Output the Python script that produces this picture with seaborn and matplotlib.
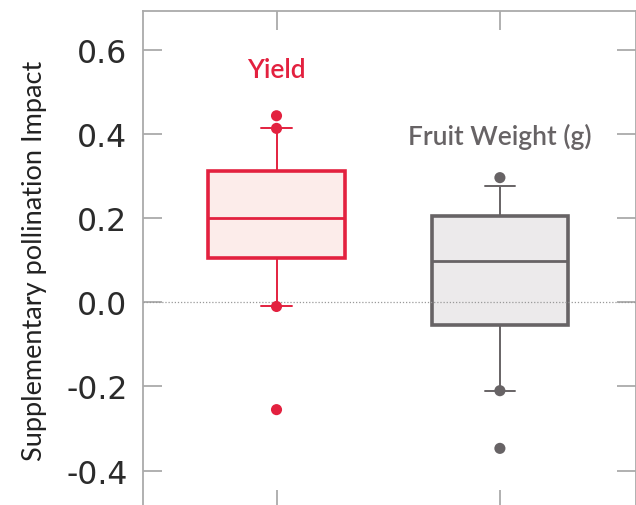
import numpy as np
import pandas as pd
import seaborn as sns
import matplotlib.pyplot as plt
from matplotlib.ticker import FormatStrFormatter

# five-number summaries (whisker low, Q1, median, Q3, whisker high)
categories = ['Yield', 'Fruit Weight (g)']
yield_summary = [-0.010, 0.105, 0.199, 0.312, 0.413]
weight_summary = [-0.210, -0.055, 0.098, 0.206, 0.275]

# individual points drawn as dots
yield_points = [0.443, 0.413, -0.010, -0.255]
weight_points = [0.296, -0.210, -0.347]

edge_colors = ['#E3213F', '#676365']
fill_colors = ['#FCECEA', '#ECEAEB']

y_ticks = [-0.4, -0.2, 0.0, 0.2, 0.4, 0.6]

sns.set_style('white')
plt.rcParams['font.family'] = ['Lato', 'DejaVu Sans']
plt.rcParams['axes.unicode_minus'] = False

box_df = pd.DataFrame({
    'cat': [categories[0]] * len(yield_summary) + [categories[1]] * len(weight_summary),
    'val': yield_summary + weight_summary,
})
pts_df = pd.DataFrame({
    'cat': [categories[0]] * len(yield_points) + [categories[1]] * len(weight_points),
    'val': yield_points + weight_points,
})

fig = plt.figure(figsize=(6.36, 5.06), dpi=100)
ax = fig.add_axes([142.7 / 636, -4 / 506, (635.5 - 142.7) / 636, (510 - 11.7) / 506])

for cat, edge, fill in zip(categories, edge_colors, fill_colors):
    sns.boxplot(data=box_df[box_df['cat'] == cat], x='cat', y='val', order=categories,
                color=fill, linecolor=edge, saturation=1, width=0.61,
                whis=np.inf, showfliers=False, linewidth=2.6,
                whiskerprops=dict(linewidth=1.4), capprops=dict(linewidth=1.4),
                medianprops=dict(linewidth=2.0), capwidths=0.135, ax=ax)

sns.stripplot(data=pts_df, x='cat', y='val', order=categories, hue='cat',
              palette=dict(zip(categories, edge_colors)), jitter=False, size=8,
              linewidth=0, legend=False, zorder=5, ax=ax)

ax.axhline(0, color='#999999', lw=0.9, ls=(0, (1, 1.5)), zorder=4)

ax.set_xlim(-0.599, 1.607)
ax.set_ylim(-0.491, 0.6925)
ax.set_yticks(y_ticks)
ax.yaxis.set_major_formatter(FormatStrFormatter('%.1f'))
ax.set_xticks([0, 1])
ax.set_xticklabels([])
ax.set_xlabel('')
ax.set_ylabel('Supplementary pollination Impact', fontsize=19.5, color='#222222')
ax.yaxis.set_label_coords(-0.194, 0.5)

for lbl in ax.get_yticklabels():
    lbl.set_fontfamily(['DejaVu Sans'])
    lbl.set_fontsize(22.7)
    lbl.set_color('#2b2b2b')

ax.tick_params(axis='both', direction='in', length=14, width=1.3, color='#aaaaaa',
               left=True, right=True, top=True, bottom=True, pad=11)
for side in ['left', 'right', 'top']:
    ax.spines[side].set_color('#aaaaaa')
    ax.spines[side].set_linewidth(1.3)
ax.spines['bottom'].set_visible(False)

ax.text(0, 0.554, categories[0], color=edge_colors[0], fontsize=19, fontweight='semibold',
        ha='center', va='center')
ax.text(1, 0.395, categories[1], color=edge_colors[1], fontsize=19, fontweight='semibold',
        ha='center', va='center')

fig.savefig('out.png', dpi=100)
